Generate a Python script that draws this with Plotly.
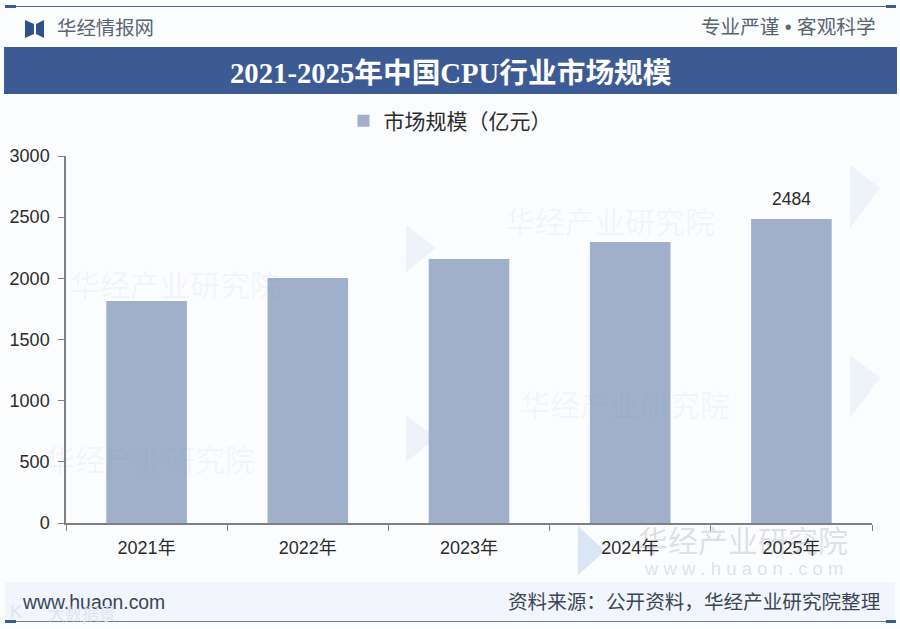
import plotly.graph_objects as go

years = ["2021年", "2022年", "2023年", "2024年", "2025年"]
market_size = [1815, 2003, 2158, 2297, 2484]
bar_labels = ["", "", "", "", "2484"]
y_ticks = [0, 500, 1000, 1500, 2000, 2500, 3000]
series_name = "市场规模（亿元）"

CJK = "Liberation Sans, Noto Sans CJK SC, sans-serif"
SERIF = "Liberation Serif, Noto Sans CJK SC, serif"
NAVY = "#3c5b94"
BAR = "#a0b0cb"
INK = "#2b2b2b"
L, R, T, B = 66, 872, 156, 523


def px(x):
    return (x - L) / (R - L)


def py(y):
    return (B - y) / (B - T)


def rect(x0, y0, x1, y1, color, layer="below"):
    return dict(type="rect", xref="paper", yref="paper", x0=px(x0), x1=px(x1),
                y0=py(y1), y1=py(y0), fillcolor=color, line_width=0, layer=layer)


def poly(points, color, layer="below"):
    d = "M " + " L ".join(f"{px(x):.5f},{py(y):.5f}" for x, y in points) + " Z"
    return dict(type="path", xref="paper", yref="paper", path=d, fillcolor=color, line_width=0, layer=layer)


def label(x, y, text, size, color=INK, family=CJK, anchor="center", bold=False):
    if bold:
        text = f"<b>{text}</b>"
    return dict(xref="paper", yref="paper", x=px(x), y=py(y), text=text, showarrow=False,
                xanchor=anchor, yanchor="middle", font=dict(family=family, size=size, color=color))


fig = go.Figure(go.Bar(
    x=years, y=market_size, name=series_name, marker_color=BAR, marker_line_width=0,
))

WM = "rgba(110,130,165,0.07)"
shapes = [
    rect(5, 6, 895, 7, "#51698f"),
    rect(5, 5, 16, 8, "#3c5b94"),
    rect(886, 5, 896, 8, "#3c5b94"),
    rect(4, 47, 897, 94, NAVY),
    rect(5, 582, 895, 621, "#f2f5fb"),
    rect(5, 621, 895, 622, "#6d7a90"),
    rect(5, 620, 16, 623, "#3c5b94"),
    rect(886, 620, 896, 623, "#3c5b94"),
    # logo in header
    poly([(25, 20), (34, 24), (34, 34), (25, 38)], "#2f5288"),
    poly([(44, 20), (36, 24), (36, 34), (44, 38)], "#2f5288"),
    # watermark logos
    poly([(578, 526), (605, 551), (578, 575)], "#dbe6f4"),
    poly([(406, 225), (436, 248), (406, 272)], "#eef3fa"),
    poly([(406, 415), (436, 438), (406, 462)], "#eef3fa"),
    poly([(850, 165), (880, 188), (850, 228)], "#eef3fa"),
    poly([(850, 355), (880, 378), (850, 418)], "#eef3fa"),
]

annotations = [
    label(55, 28, "华经情报网", 19.4, "#5a6472", anchor="left"),
    label(878, 27, "专业严谨 • 客观科学", 19.6, "#5a6472", anchor="right"),
    label(451, 73, "2021-2025年中国CPU行业市场规模", 28.7, "#ffffff", SERIF, bold=True),
    label(20, 602, "www.huaon.com", 19.4, "#3a4658", anchor="left"),
    label(882, 602, "资料来源：公开资料，华经产业研究院整理", 19.6, "#3a4658", anchor="right"),
    # watermarks
    label(743, 541, "华经产业研究院", 30, "rgba(120,125,135,0.22)"),
    label(743, 568, "w w w . h u a o n . c o m", 18.5, "rgba(120,125,135,0.22)"),
    label(610, 222, "华经产业研究院", 30, WM),
    label(625, 405, "华经产业研究院", 30, WM),
    label(175, 285, "华经产业研究院", 30, WM),
    label(150, 460, "华经产业研究院", 30, WM),
    # corner stamp
    label(16, 612, "K", 18, "rgba(222,228,238,0.95)"),
    label(82, 614, "大数据景", 17, "rgba(222,228,238,0.95)"),
]

# value labels, anchored to the data
for year, value, text in zip(years, market_size, bar_labels):
    if text:
        annotations.append(dict(xref="x", yref="y", x=year, y=value, text=text, showarrow=False,
                                xanchor="center", yanchor="bottom", yshift=8,
                                font=dict(family=CJK, size=17.5, color=INK)))

fig.update_layout(
    width=900, height=629, autosize=False,
    margin=dict(l=L, r=900 - R, t=T, b=629 - B, autoexpand=False),
    paper_bgcolor="#fbfcfe", plot_bgcolor="rgba(0,0,0,0)",
    bargap=0.5, font=dict(family=CJK, size=16, color=INK),
    shapes=shapes, annotations=annotations,
    showlegend=True,
    legend=dict(orientation="h", x=px(450), y=py(121), xanchor="center", yanchor="middle",
                font=dict(family=CJK, size=21, color=INK),
                bgcolor="rgba(0,0,0,0)"),
    xaxis=dict(tickson="boundaries", ticks="outside", ticklen=6, tickcolor="#808080",
               showline=True, linecolor="#808080", linewidth=1.5, showgrid=False,
               ticklabelstandoff=8, tickfont=dict(size=18, color=INK)),
    yaxis=dict(range=[0, 3000], tickvals=y_ticks, ticks="outside", ticklen=6, tickcolor="#808080",
               showline=True, linecolor="#808080", linewidth=1.5, showgrid=False, zeroline=False,
               ticklabelstandoff=5, tickfont=dict(size=18, color=INK)),
)

fig.write_html("out.html", config=dict(displayModeBar=False),
               post_script="document.body.style.margin='0';")
